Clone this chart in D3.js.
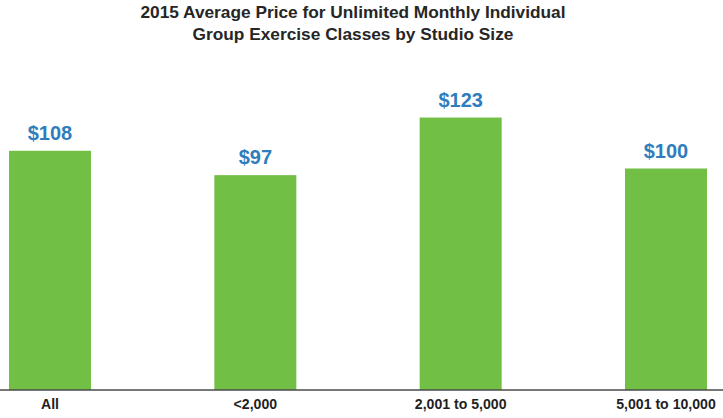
<!DOCTYPE html>
<html>
<head>
<meta charset="utf-8">
<script src="https://cdn.jsdelivr.net/npm/d3@7"></script>
<style>
  body { margin: 0; background: #fff; }
  svg { display: block; }
</style>
</head>
<body>
<div id="chart"></div>
<script>
var categories = ["All", "<2,000", "2,001 to 5,000", "5,001 to 10,000"];
var prices = [108, 97, 123, 100];
var titleLines = ["2015 Average Price for Unlimited Monthly Individual",
                  "Group Exercise Classes by Studio Size"];

var width = 723, height = 418,
  baseline = 390;

var svg = d3.select("#chart")
  .append("svg")
  .attr("width", width)
  .attr("height", height);

let x = d3.scalePoint().domain(categories).range([50, 666]);
let y = d3.scaleLinear().domain([0, 100]).range([baseline, baseline - 221.5]);
var barW = 82;

svg.selectAll(".title")
  .data(titleLines)
  .enter().append("text")
  .attr("x", 353)
  .attr("y", (d, i) => 18 + i * 22)
  .attr("text-anchor", "middle")
  .style("font-family", "'Liberation Sans', Arial, sans-serif")
  .style("font-weight", "bold")
  .style("font-size", "17.3px")
  .style("fill", "#262626")
  .text(d => d);

svg.selectAll(".bar")
  .data(prices)
  .enter().append("rect")
  .attr("x", (d, i) => x(categories[i]) - barW / 2)
  .attr("y", d => y(d))
  .attr("width", barW)
  .attr("height", d => baseline - y(d))
  .style("fill", "#71bf45");

svg.selectAll(".val")
  .data(prices)
  .enter().append("text")
  .attr("x", (d, i) => x(categories[i]))
  .attr("y", d => y(d) - 11)
  .attr("text-anchor", "middle")
  .style("font-family", "'Liberation Sans', Arial, sans-serif")
  .style("font-weight", "bold")
  .style("font-size", "20px")
  .style("fill", "#2f7dbd")
  .text(d => "$" + d);

svg.append("line")
  .attr("x1", 0).attr("x2", width)
  .attr("y1", baseline).attr("y2", baseline)
  .style("stroke", "#4a4a4a")
  .style("stroke-width", 1.5);

svg.selectAll(".cat")
  .data(categories)
  .enter().append("text")
  .attr("transform", d => "translate(" + x(d) + ",409) scale(0.94,1)")
  .attr("text-anchor", "middle")
  .style("font-family", "'Liberation Sans', Arial, sans-serif")
  .style("font-weight", "bold")
  .style("font-size", "15px")
  .style("fill", "#1f1f1f")
  .text(d => d);
</script>
</body>
</html>
